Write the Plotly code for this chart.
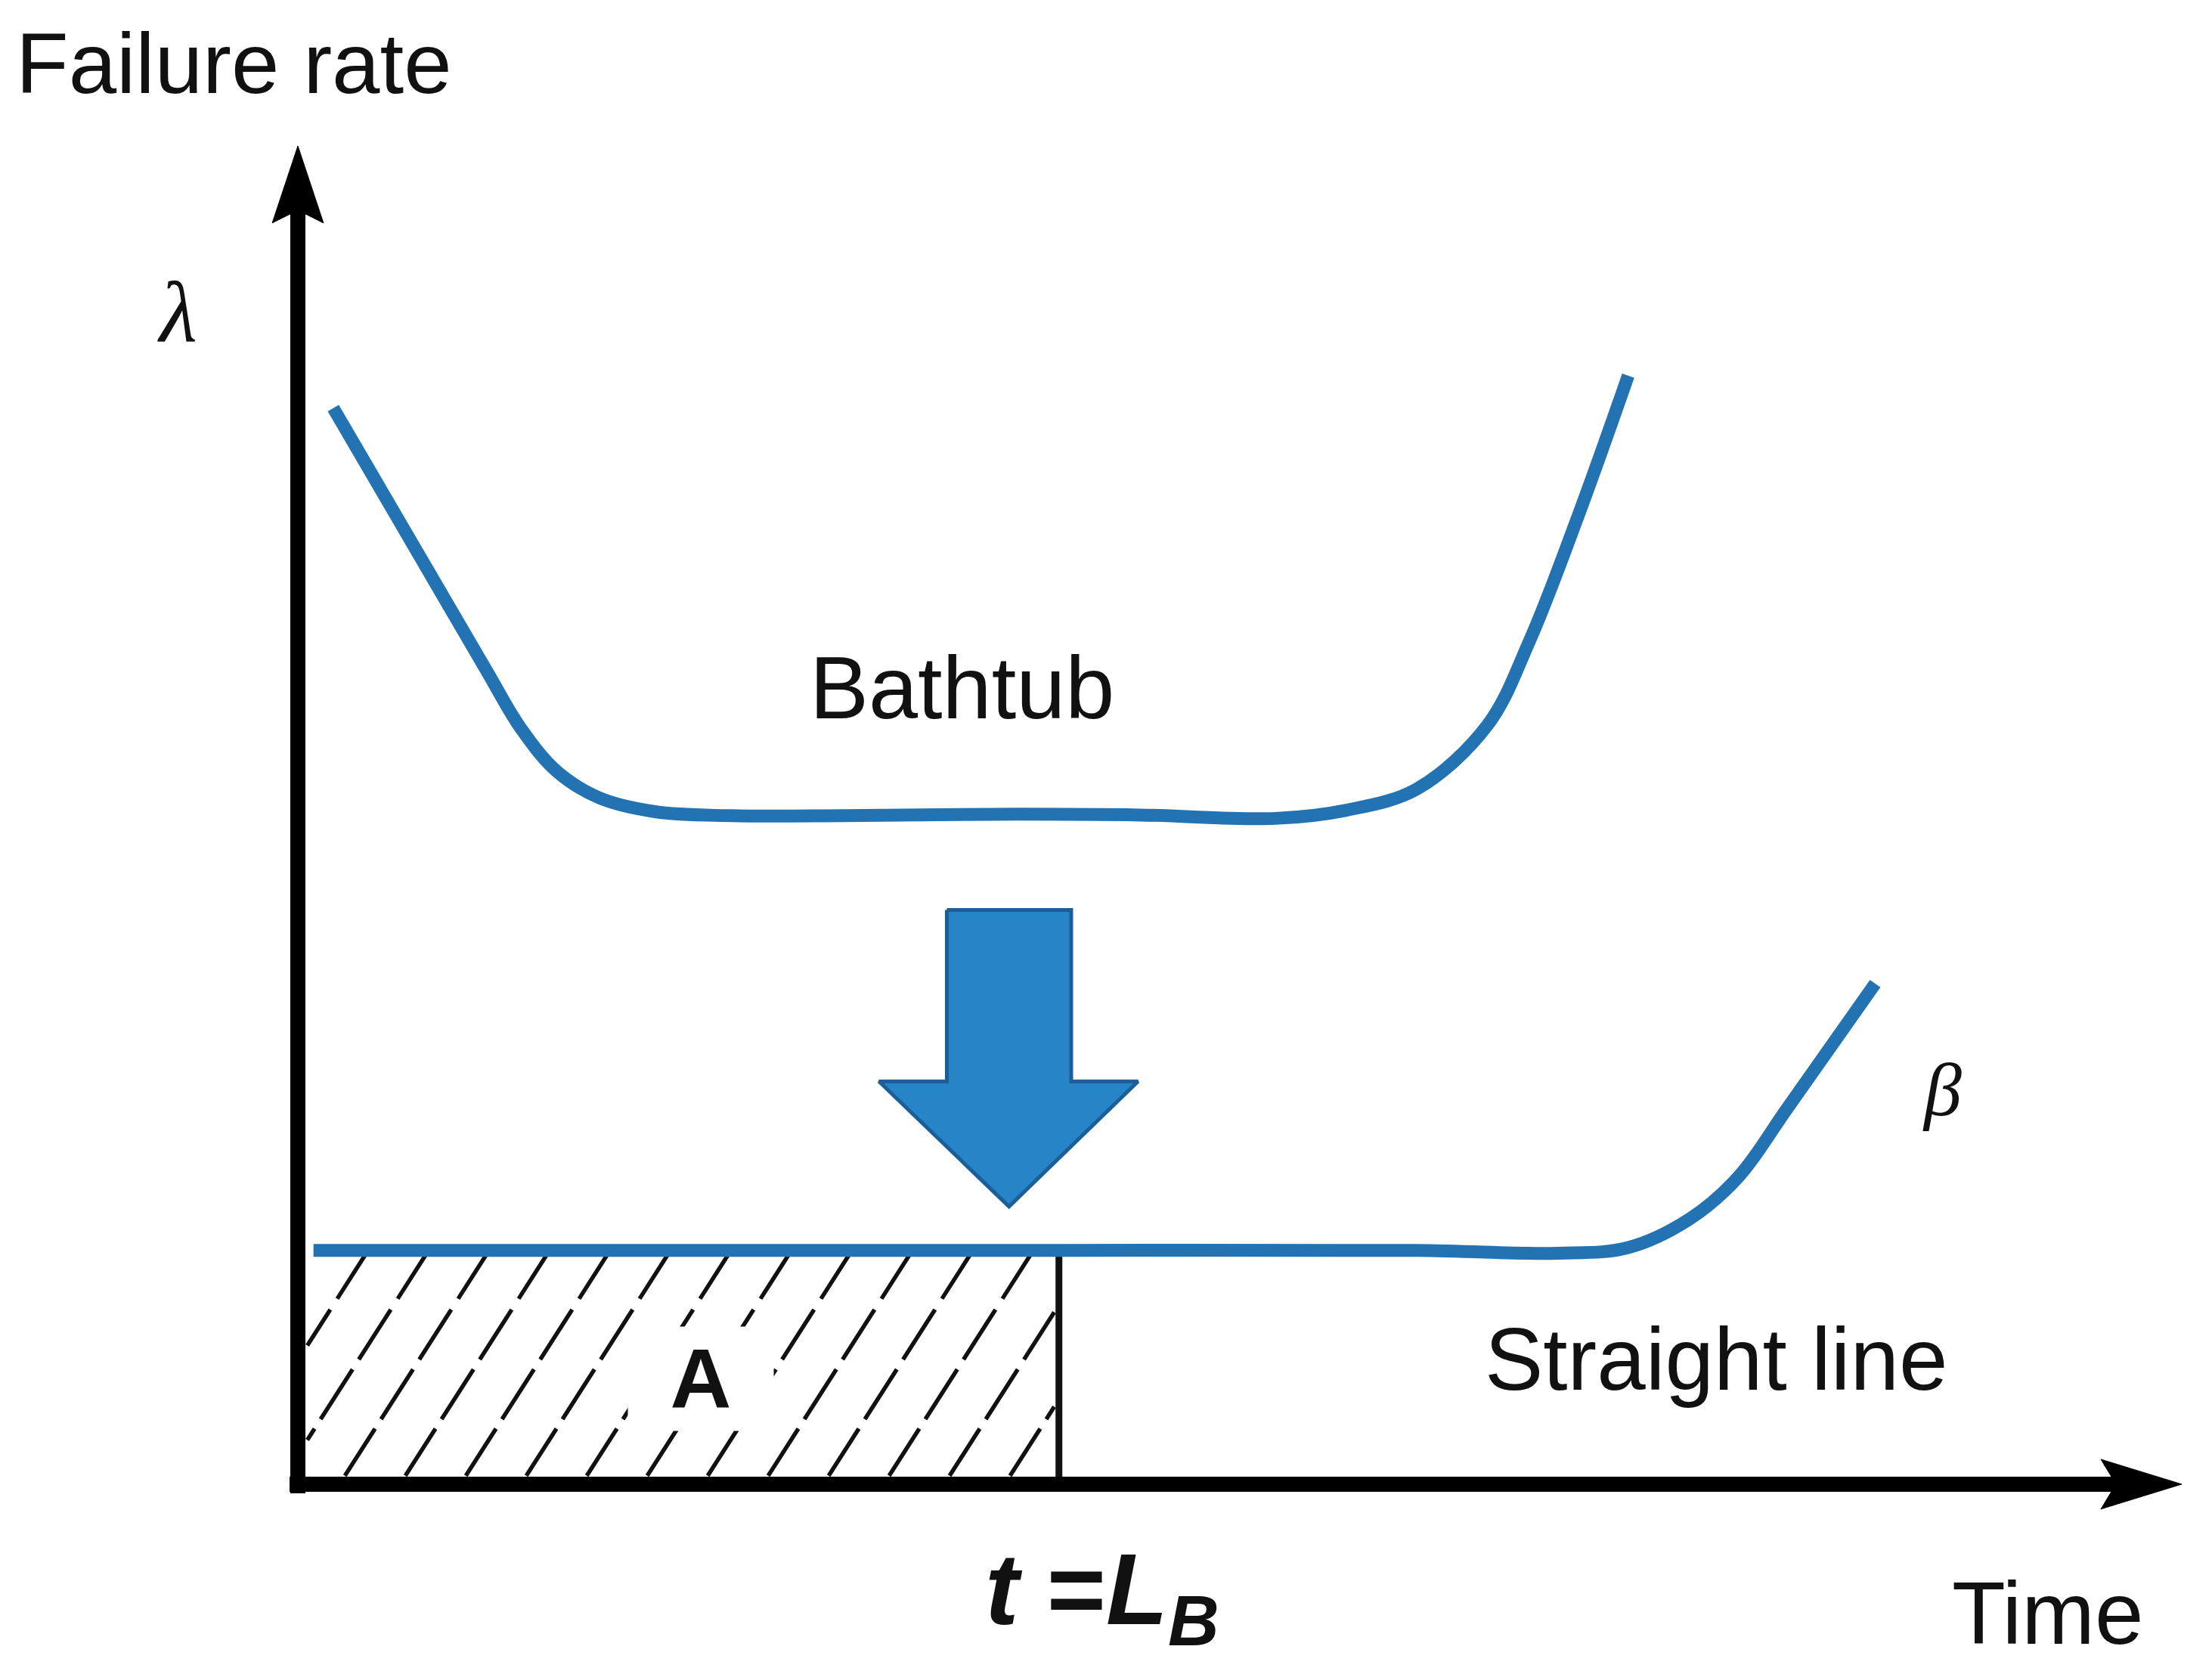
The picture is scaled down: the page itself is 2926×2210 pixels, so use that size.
import plotly.graph_objects as go

# ---------------- data (time units / failure-rate units) ----------------
bathtub_t = [1.88, 9.97, 11.84, 13.71, 15.96, 18.96, 23.0, 29.0, 36.92, 44.7,
             51.9, 55.65, 59.39, 63.13, 65.38, 68.0, 70.62]
bathtub_rate = [80.41, 60.9, 56.47, 53.31, 51.31, 50.25, 49.95, 49.95, 50.06, 50.0,
                49.75, 50.36, 51.94, 56.68, 63.01, 72.5, 82.83]

straight_t = [0.83, 20.0, 40.5, 59.39, 66.88, 70.62, 73.85, 76.46, 79.08, 83.73]
straight_rate = [17.47, 17.47, 17.47, 17.47, 17.26, 17.68, 19.79, 22.95, 28.12, 37.4]

LB = 40.40            # t = L_B
LB_rate = 17.47       # straight-line level at L_B

# big down arrow (bathtub -> straight line)
arrow_t = [34.45, 41.05, 41.05, 44.6, 37.75, 30.85, 34.45, 34.45]
arrow_rate = [42.9, 42.9, 30.1, 30.1, 20.75, 30.1, 30.1, 42.9]

axis_max_t = 100.0
axis_max_rate = 100.0

labels = {
    "title": "Failure rate",
    "lambda": "λ",
    "bathtub": "Bathtub",
    "beta": "β",
    "straight": "Straight line",
    "area": "A",
    "lb": "<b><i>t</i> =<i>L</i><sub><i>B</i></sub></b>",
    "time": "Time",
}

# ---------------- styles ----------------
BLUE = "#2372b2"
ARROW_FILL = "#2784c6"
ARROW_EDGE = "#1b5e98"
INK = "#111111"
SANS = "Liberation Sans, Arial, sans-serif"
SERIF = "Liberation Serif, Times New Roman, serif"

fig = go.Figure()

# ---------------- hatch in area A ----------------
hatch_dx = 3.21       # horizontal spacing of hatch lines
hatch_slope = 0.4546  # dx per unit of rate
rows = [(0.63, 4.15), (4.86, 8.59), (9.32, 13.05), (13.86, 17.14)]
x_lo, x_hi = 0.50, 40.15
hx, hy = [], []
start = 2.21
k0 = -4
while True:
    xb = start + k0 * hatch_dx
    if xb > x_hi:
        break
    for (y0, y1) in rows:
        xa = xb + y0 * hatch_slope
        xc = xb + y1 * hatch_slope
        ya, yc = y0, y1
        if xc < x_lo or xa > x_hi:
            continue
        if xa < x_lo:
            ya = y0 + (x_lo - xa) / hatch_slope
            xa = x_lo
        if xc > x_hi:
            yc = y0 + (x_hi - xb - y0 * hatch_slope) / hatch_slope
            xc = x_hi
        hx += [xa, xc, None]
        hy += [ya, yc, None]
    k0 += 1
fig.add_trace(go.Scatter(x=hx, y=hy, mode="lines",
                         line=dict(color=INK, width=5.5), hoverinfo="skip"))

# vertical line at L_B
fig.add_trace(go.Scatter(x=[LB, LB], y=[0, LB_rate], mode="lines",
                         line=dict(color=INK, width=9), hoverinfo="skip"))

# ---------------- curves ----------------
fig.add_trace(go.Scatter(x=bathtub_t, y=bathtub_rate, mode="lines",
                         line=dict(color=BLUE, width=17, shape="spline", smoothing=1.0),
                         hoverinfo="skip"))
fig.add_trace(go.Scatter(x=straight_t, y=straight_rate, mode="lines",
                         line=dict(color=BLUE, width=17, shape="spline", smoothing=1.0),
                         hoverinfo="skip"))

# big arrow
fig.add_trace(go.Scatter(x=arrow_t, y=arrow_rate, mode="lines", fill="toself",
                         fillcolor=ARROW_FILL, line=dict(color=ARROW_EDGE, width=5),
                         hoverinfo="skip"))

# ---------------- axes with arrow heads ----------------
AXW = 20
y_head_len, y_head_half, y_notch = 5.76, 1.36, 0.96
x_head_len, x_head_half, x_notch = 4.29, 1.86, 0.80
fig.add_trace(go.Scatter(x=[0, 0], y=[-0.68, axis_max_rate - y_head_len + y_notch + 0.3],
                         mode="lines", line=dict(color="black", width=AXW), hoverinfo="skip"))
fig.add_trace(go.Scatter(x=[-0.44, axis_max_t - x_head_len + x_notch + 0.3], y=[0, 0],
                         mode="lines", line=dict(color="black", width=AXW), hoverinfo="skip"))
fig.add_trace(go.Scatter(
    x=[0, -y_head_half, 0, y_head_half, 0],
    y=[axis_max_rate, axis_max_rate - y_head_len, axis_max_rate - y_head_len + y_notch,
       axis_max_rate - y_head_len, axis_max_rate],
    mode="lines", fill="toself", fillcolor="black", line=dict(color="black", width=1),
    hoverinfo="skip"))
fig.add_trace(go.Scatter(
    x=[axis_max_t, axis_max_t - x_head_len, axis_max_t - x_head_len + x_notch,
       axis_max_t - x_head_len, axis_max_t],
    y=[0, x_head_half, 0, -x_head_half, 0],
    mode="lines", fill="toself", fillcolor="black", line=dict(color="black", width=1),
    hoverinfo="skip"))

# ---------------- text ----------------
def txt(x, y, s, size, family=SANS, xanchor="center", yanchor="middle", **kw):
    fig.add_annotation(x=x, y=y, xref="x", yref="y", text=s, showarrow=False,
                       font=dict(family=family, size=size, color=INK),
                       xanchor=xanchor, yanchor=yanchor, **kw)

txt(-15.06, 106.2, labels["title"], 114, xanchor="left")
txt(-6.4, 87.6, "<i>" + labels["lambda"] + "</i>", 115, family=SERIF)
txt(35.26, 59.5, labels["bathtub"], 117)
txt(87.3, 29.45, "<i>" + labels["beta"] + "</i>", 100, family=SERIF)
txt(75.3, 9.3, labels["straight"], 116)
txt(21.4, 7.9, "<b>" + labels["area"] + "</b>", 112, bgcolor="white",
    width=190, height=135)
txt(36.4, -3.5, labels["lb"], 134, xanchor="left", yanchor="top")
txt(92.9, -9.66, labels["time"], 116)

fig.update_layout(
    width=2926, height=2210,
    margin=dict(l=0, r=0, t=0, b=0),
    paper_bgcolor="white", plot_bgcolor="white",
    showlegend=False,
    xaxis=dict(range=[-15.49, 101.93], visible=False, fixedrange=True),
    yaxis=dict(range=[-14.41, 110.45], visible=False, fixedrange=True),
)

fig.write_html("out.html")
